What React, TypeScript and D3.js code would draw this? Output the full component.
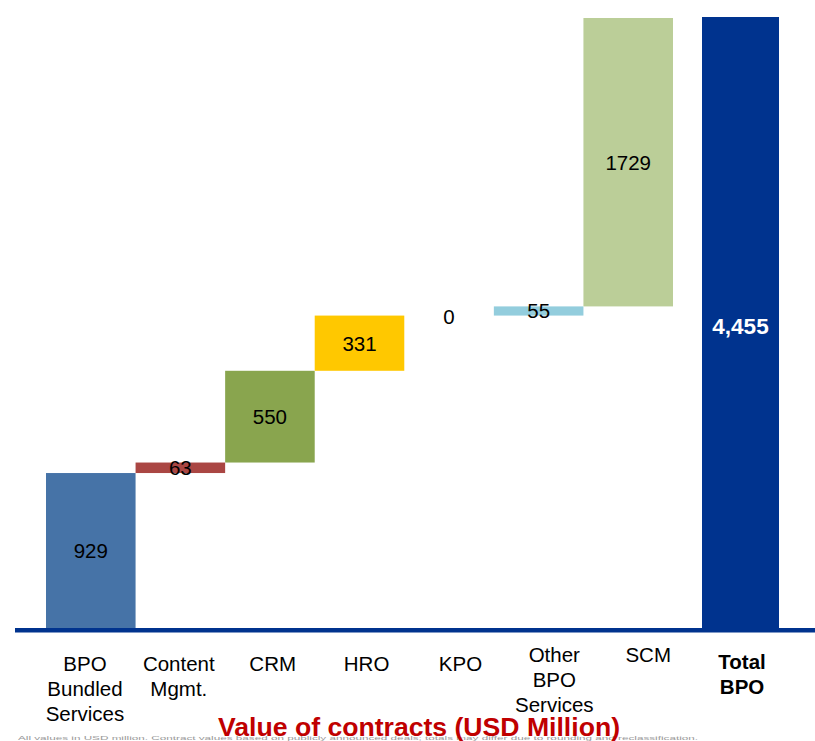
import React from "react";
import * as d3 from "d3";

const categories = ["BPO Bundled Services", "Content Mgmt.", "CRM", "HRO", "KPO", "Other BPO Services", "SCM", "Total BPO"];
const labelLines = [["BPO", "Bundled", "Services"], ["Content", "Mgmt."], ["CRM"], ["HRO"], ["KPO"], ["Other", "BPO", "Services"], ["SCM"], ["Total", "BPO"]];
const values = [929, 63, 550, 331, 0, 55, 1729];
const totalValue = 4455;
const valueLabels = ["929", "63", "550", "331", "0", "55", "1729"];
const totalLabel = "4,455";
const titleText = "Value of contracts (USD Million)";
const footnoteText = "All values in USD million. Contract values based on publicly announced deals; totals may differ due to rounding and reclassification.";

const colors = ["#4673A7", "#AA4643", "#89A54E", "#FFC800", "#71588F", "#93CDDD", "#BBCE98"];
const totalColor = "#00338E";
const labelShift = [0, 0, 0, 0, 0, -9, -9, -2];

export default function App() {
  const W = 815, H = 741;
  const baseY = 628;
  const cum: number[] = [];
  values.reduce((acc, v) => { cum.push(acc); return acc + v; }, 0);
  const runTotal = d3.sum(values);

  const y = d3.scaleLinear().domain([0, runTotal]).range([baseY, 18]);
  const yClip = y.invert(17);

  const xBars = d3.scaleBand<string>().domain(categories.slice(0, 7)).range([46, 673]).paddingInner(0).paddingOuter(0);
  const xLabels = d3.scaleBand<string>().domain(categories).range([38, 789]);

  const bw = xBars.bandwidth();
  const totalX = (xBars(categories[6]) as number) + bw + 29;
  const totalW = 77;

  return (
    <svg width={W} height={H} style={{ position: "absolute", left: 0, top: 0, fontFamily: "'Liberation Sans', Arial, sans-serif" }}>
      <rect x={0} y={0} width={W} height={H} fill="#fff" />
      {values.map((v, i) => {
        const x0 = xBars(categories[i]) as number;
        const yTop = y(cum[i] + v);
        const yBot = y(cum[i]);
        return (
          <g key={i}>
            {v > 0 && <rect x={x0} y={yTop} width={bw} height={yBot - yTop} fill={colors[i]} />}
            <text x={x0 + bw / 2} y={(yTop + yBot) / 2 + (v === 0 ? 1 : 0)} textAnchor="middle" dominantBaseline="central" fontSize={20.5} fill="#000">
              {valueLabels[i]}
            </text>
          </g>
        );
      })}
      <rect x={totalX} y={y(Math.min(totalValue, yClip))} width={totalW} height={baseY - y(Math.min(totalValue, yClip))} fill={totalColor} />
      <text x={totalX + totalW / 2} y={y(1810)} textAnchor="middle" dominantBaseline="central" fontSize={22.5} fontWeight="bold" fill="#fff">
        {totalLabel}
      </text>
      <rect x={15} y={baseY} width={W - 15} height={4.5} fill={totalColor} />
      {categories.map((c, i) => (
        <text key={c} x={(xLabels(c) as number) + xLabels.bandwidth() / 2} y={670.5 + labelShift[i]} textAnchor="middle" fontSize={20.5} fontWeight={i === 7 ? "bold" : "normal"} fill="#000">
          {labelLines[i].map((l, j) => (
            <tspan key={j} x={(xLabels(c) as number) + xLabels.bandwidth() / 2} dy={j === 0 ? 0 : 25}>{l}</tspan>
          ))}
        </text>
      ))}
      <text x={18} y={740} fontSize={5} fill="#999" textLength={680} lengthAdjust="spacingAndGlyphs">{footnoteText}</text>
      <text x={218} y={736} fontSize={25} fontWeight="bold" fill="#C00000" textLength={402} lengthAdjust="spacingAndGlyphs">
        {titleText}
      </text>
    </svg>
  );
}
